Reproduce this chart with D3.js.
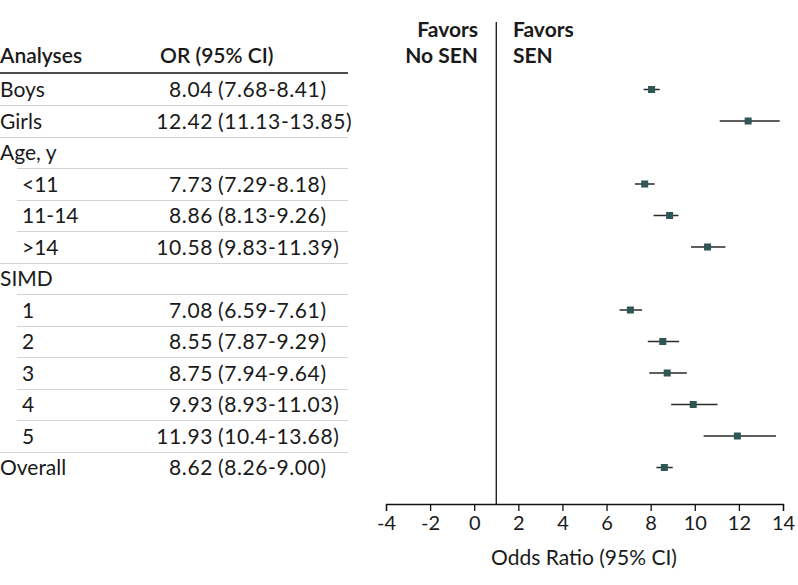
<!DOCTYPE html>
<html>
<head>
<meta charset="utf-8">
<script src="https://cdn.jsdelivr.net/npm/d3@7"></script>
<style>
  html, body { margin: 0; padding: 0; background: #fff; }
  svg text { font-family: Lato, "Open Sans", sans-serif; fill: #1a1a1a; }
</style>
</head>
<body>
<svg id="chart" width="798" height="585"></svg>
<script>
// ---- data ----
const labels   = ["Boys", "Girls", "Age, y", "<11", "11-14", ">14", "SIMD", "1", "2", "3", "4", "5", "Overall"];
const indented = [false, false, false, true, true, true, false, true, true, true, true, true, false];
const orValues = [8.04, 12.42, null, 7.73, 8.86, 10.58, null, 7.08, 8.55, 8.75, 9.93, 11.93, 8.62];
const ciLow    = [7.68, 11.13, null, 7.29, 8.13, 9.83, null, 6.59, 7.87, 7.94, 8.93, 10.4, 8.26];
const ciHigh   = [8.41, 13.85, null, 8.18, 9.26, 11.39, null, 7.61, 9.29, 9.64, 11.03, 13.68, 9.00];
const orText   = ["8.04", "12.42", "", "7.73", "8.86", "10.58", "", "7.08", "8.55", "8.75", "9.93", "11.93", "8.62"];
const ciText   = ["(7.68-8.41)", "(11.13-13.85)", "", "(7.29-8.18)", "(8.13-9.26)", "(9.83-11.39)", "",
                  "(6.59-7.61)", "(7.87-9.29)", "(7.94-9.64)", "(8.93-11.03)", "(10.4-13.68)", "(8.26-9.00)"];
const xTicks   = [-4, -2, 0, 2, 4, 6, 8, 10, 12, 14];
const nullValue = 1;

// ---- layout ----
const svg = d3.select("#chart");
const fs = 21;
const x = d3.scaleLinear().domain([-4, 14]).range([386, 783]);
const y = d3.scaleLinear().domain([0, labels.length - 1]).range([89.5, 467.5]);
const rowH = y(1) - y(0);
const axisY = 504;
const tableRight = 348;

// header
svg.append("text").attr("x", 0).attr("y", 63).attr("font-size", fs).attr("font-weight", 600).text("Analyses");
svg.append("text").attr("x", 160).attr("y", 63).attr("font-size", fs).attr("font-weight", 600).text("OR (95% CI)");
svg.append("line").attr("x1", 0).attr("x2", tableRight).attr("y1", 73).attr("y2", 73)
  .attr("stroke", "#111").attr("stroke-width", 1.6);

// separators (above each row except first)
labels.forEach((d, i) => {
  if (i === 0) return;
  const yy = Math.round(y(i) - rowH / 2) + 0.5;
  svg.append("line").attr("x1", indented[i] ? 17 : 0).attr("x2", tableRight)
    .attr("y1", yy).attr("y2", yy).attr("stroke", "#d4d4d4").attr("stroke-width", 1.2);
});

// row texts
const rows = svg.append("g");
labels.forEach((d, i) => {
  const cy = y(i) + 7.5;
  rows.append("text").attr("x", indented[i] ? 22 : 0).attr("y", cy).attr("font-size", fs).text(d);
  if (orText[i]) {
    rows.append("text").attr("x", 213).attr("y", cy).attr("font-size", fs).attr("letter-spacing", 0.6)
      .attr("text-anchor", "end").text(orText[i]);
    rows.append("text").attr("x", 218).attr("y", cy).attr("font-size", fs).attr("letter-spacing", 0.6).text(ciText[i]);
  }
});

// favors
svg.append("text").attr("x", 478).attr("y", 37).attr("font-size", fs).attr("font-weight", 700).attr("text-anchor", "end").text("Favors");
svg.append("text").attr("x", 478).attr("y", 63).attr("font-size", fs).attr("font-weight", 700).attr("text-anchor", "end").text("No SEN");
svg.append("text").attr("x", 513).attr("y", 37).attr("font-size", fs).attr("font-weight", 700).text("Favors");
svg.append("text").attr("x", 513).attr("y", 63).attr("font-size", fs).attr("font-weight", 700).text("SEN");

// null line
svg.append("line").attr("x1", x(nullValue)).attr("x2", x(nullValue)).attr("y1", 22).attr("y2", axisY)
  .attr("stroke", "#111").attr("stroke-width", 1.3);

// axis
const axis = d3.axisBottom(x).tickValues(xTicks).tickSize(7).tickPadding(5).tickFormat(d3.format("d"));
const gAx = svg.append("g").attr("transform", `translate(0,${axisY})`).call(axis);
gAx.select(".domain").attr("stroke", "#111").attr("stroke-width", 1.3);
gAx.selectAll(".tick line").attr("stroke", "#111").attr("stroke-width", 1.3);
gAx.selectAll(".tick text").attr("font-size", 20).attr("font-family", "Lato, sans-serif").attr("fill", "#1a1a1a")
  .text(d => d < 0 ? "-" + Math.abs(d) : d);
svg.append("text").attr("x", 584).attr("y", 565).attr("font-size", fs).attr("text-anchor", "middle").text("Odds Ratio (95% CI)");

// CI lines and markers
const marks = svg.append("g");
orValues.forEach((v, i) => {
  if (v === null) return;
  marks.append("line").attr("x1", x(ciLow[i])).attr("x2", x(ciHigh[i])).attr("y1", y(i)).attr("y2", y(i))
    .attr("stroke", "#2a2a2a").attr("stroke-width", 1.5);
  marks.append("rect").attr("x", x(v) - 3.5).attr("y", y(i) - 3.5).attr("width", 7).attr("height", 7)
    .attr("fill", "#2d5654");
});
</script>
</body>
</html>
